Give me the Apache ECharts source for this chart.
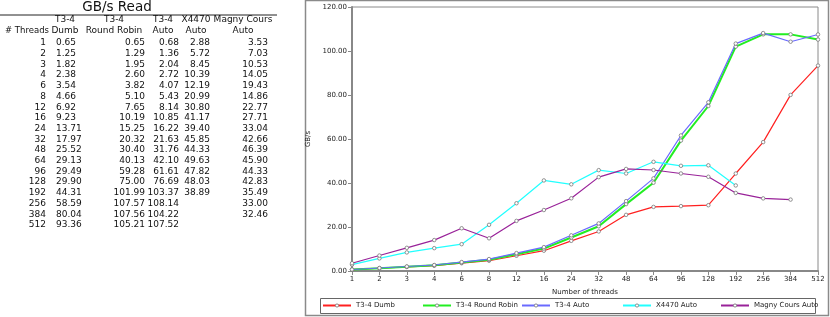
<!DOCTYPE html>
<html>
<head>
<meta charset="utf-8">
<style>
html,body{margin:0;padding:0;background:#fff;}
#chart{width:830px;height:317px;}
</style>
<script src="https://cdn.jsdelivr.net/npm/echarts@6/dist/echarts.min.js"></script>
</head>
<body>
<div id="chart"></div>
<script>
const threads = ['1','2','3','4','6','8','12','16','24','32','48','64','96','128','192','256','384','512'];
const seriesNames = ['T3-4 Dumb','T3-4 Round Robin','T3-4 Auto','X4470 Auto','Magny Cours Auto'];
const dumb = [0.65,1.25,1.82,2.38,3.54,4.66,6.92,9.23,13.71,17.97,25.52,29.13,29.49,29.90,44.31,58.59,80.04,93.36];
const roundRobin = [0.65,1.29,1.95,2.60,3.82,5.10,7.65,10.19,15.25,20.32,30.40,40.13,59.28,75.00,101.99,107.57,107.56,105.21];
const t34Auto = [0.68,1.36,2.04,2.72,4.07,5.43,8.14,10.85,16.22,21.63,31.76,42.10,61.61,76.69,103.37,108.14,104.22,107.52];
const x4470Auto = [2.88,5.72,8.45,10.39,12.19,20.99,30.80,41.17,39.40,45.85,44.33,49.63,47.82,48.03,38.89];
const magnyAuto = [3.53,7.03,10.53,14.05,19.43,14.86,22.77,27.71,33.04,42.66,46.39,45.90,44.33,42.83,35.49,33.00,32.46];
const headerLine1 = ['', 'T3-4', 'T3-4', 'T3-4', 'X4470', 'Magny Cours'];
const headerLine2 = ['# Threads', 'Dumb', 'Round Robin', 'Auto', 'Auto', 'Auto'];
const tableTitle = 'GB/s Read';

const colors = ['#ff2020', '#22ee22', '#6a6aff', '#22ffff', '#992299'];
const allData = [dumb, roundRobin, t34Auto, x4470Auto, magnyAuto];

const FONT = 'DejaVu Sans, sans-serif';
const rowY0 = 43, rowH = 10.7;
const headCenters = [25, 65, 114, 163, 196, 243];
const colRight = [46, null, 145, 179, 210, 268];
const dumbLeft = 56;

const graphics = [];
graphics.push({type:'text', style:{text:tableTitle, x:117, y:7, align:'center', verticalAlign:'middle', font:'13.5px ' + FONT, fill:'#111'}});
graphics.push({type:'line', shape:{x1:0, y1:15, x2:277, y2:15}, style:{stroke:'#222', lineWidth:1}});
for (let c = 0; c < 6; c++) {
  if (headerLine1[c]) graphics.push({type:'text', style:{text:headerLine1[c], x:headCenters[c], y:20, align:'center', verticalAlign:'middle', font:'9px ' + FONT, fill:'#111'}});
  const st = {text:headerLine2[c], x:headCenters[c], y:30.5, align:'center', verticalAlign:'middle', font:'9px ' + FONT, fill:'#111'};
  if (c === 0) { st.x = 49; st.align = 'right'; st.font = '8.5px ' + FONT; }
  graphics.push({type:'text', style:st});
}
for (let r = 0; r < threads.length; r++) {
  const y = rowY0 + r * rowH;
  graphics.push({type:'text', style:{text:threads[r], x:colRight[0], y:y, align:'right', verticalAlign:'middle', font:'9px ' + FONT, fill:'#111'}});
  for (let s = 0; s < 5; s++) {
    const v = allData[s][r];
    if (v === undefined) continue;
    const st = {text:v.toFixed(2), y:y, verticalAlign:'middle', font:'9px ' + FONT, fill:'#111'};
    if (s === 0) { st.x = dumbLeft; st.align = 'left'; }
    else { st.x = colRight[s + 1]; st.align = 'right'; }
    graphics.push({type:'text', style:st});
  }
}
graphics.push({type:'rect', shape:{x:305.5, y:0.5, width:523, height:315}, style:{fill:null, stroke:'#8a8a8a', lineWidth:1.5}, z:-1});
graphics.push({type:'rect', shape:{x:320.5, y:298.5, width:495, height:15}, style:{fill:null, stroke:'#666', lineWidth:1}, z:-1});

const legendLefts = [322, 422, 521, 622, 720];
const legends = seriesNames.map((n, i) => ({
  data:[n], left:legendLefts[i], top:302, itemWidth:28, itemHeight:4, itemGap:4,
  textStyle:{fontSize:7, fontFamily:FONT, color:'#222'},
  itemStyle:{color:'#fff', borderColor:'#777', borderWidth:0.8},
  padding:0, selectedMode:false
}));

const series = seriesNames.map((n, i) => ({
  name:n, type:'line', data:allData[i],
  symbol:'circle', symbolSize:3.5, showSymbol:true,
  lineStyle:{color:colors[i], width: i === 1 ? 2 : 1.2},
  itemStyle:{color:'#fff', borderColor:'#777', borderWidth:0.8},
  emphasis:{disabled:true}, animation:false
}));

const chart = echarts.init(document.getElementById('chart'), null, {renderer:'canvas'});
chart.setOption({
  animation:false,
  backgroundColor:'#fff',
  graphic:graphics,
  legend:legends,
  grid:{left:352, top:7, right:12, bottom:46, show:true, borderColor:'#8a8a8a', borderWidth:1, backgroundColor:'#fff'},
  xAxis:{type:'category', data:threads, boundaryGap:false,
    name:'Number of threads', nameLocation:'middle', nameGap:18,
    nameTextStyle:{fontSize:7, fontFamily:FONT, color:'#222'},
    axisLine:{lineStyle:{color:'#888', width:2}},
    axisTick:{show:true, length:4, alignWithLabel:true, lineStyle:{color:'#888'}},
    axisLabel:{fontSize:7, fontFamily:FONT, color:'#222', margin:5, interval:0},
    splitLine:{show:false}},
  yAxis:{type:'value', min:0, max:120, interval:20,
    name:'GB/s', nameLocation:'middle', nameGap:36, nameRotate:90,
    nameTextStyle:{fontSize:7, fontFamily:FONT, color:'#222'},
    axisLine:{show:true, lineStyle:{color:'#888', width:2}},
    axisTick:{show:true, length:4, lineStyle:{color:'#888'}},
    axisLabel:{fontSize:7, fontFamily:FONT, color:'#222', margin:5, formatter:v => v.toFixed(2)},
    splitLine:{show:false}},
  series:series
});
</script>
</body>
</html>
